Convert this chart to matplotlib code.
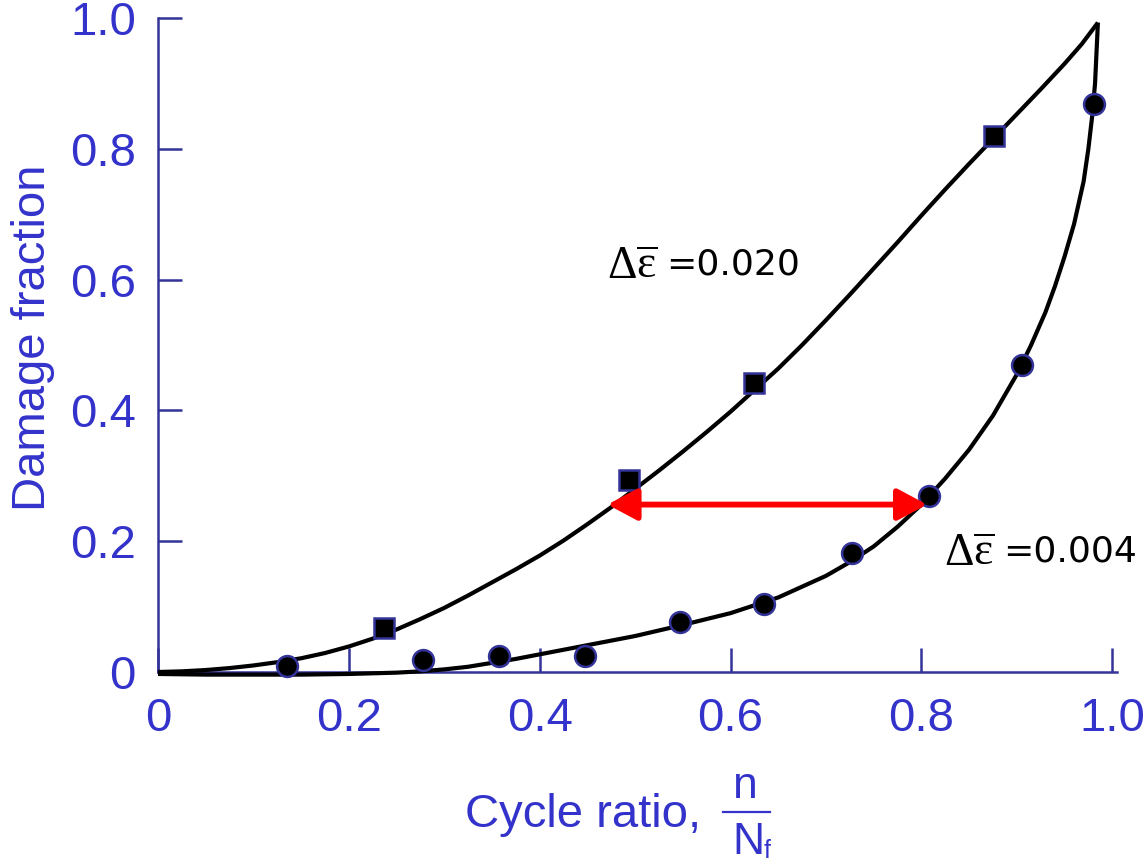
import matplotlib
matplotlib.use('Agg')
import matplotlib.pyplot as plt
from matplotlib.lines import Line2D

# ---------------- data ----------------
# measured points, strain range 0.020 (squares)
sq_x = [0.237, 0.494, 0.625, 0.876]
sq_y = [0.067, 0.294, 0.442, 0.819]
# measured points, strain range 0.004 (circles)
ci_x = [0.135, 0.278, 0.357, 0.448, 0.547, 0.635, 0.727, 0.808, 0.905, 0.981]
ci_y = [0.009, 0.018, 0.024, 0.024, 0.077, 0.104, 0.182, 0.269, 0.470, 0.868]
# fitted curve, 0.020
up_x = [0.000, 0.025, 0.050, 0.075, 0.100, 0.125, 0.150, 0.175, 0.200, 0.225,
        0.250, 0.275, 0.300, 0.325, 0.350, 0.375, 0.400, 0.425, 0.450, 0.475,
        0.500, 0.525, 0.550, 0.575, 0.600, 0.625, 0.650, 0.675, 0.700, 0.725,
        0.750, 0.775, 0.800, 0.825, 0.850, 0.875, 0.900, 0.925, 0.950, 0.968,
        0.985]
up_y = [0.000, 0.001, 0.003, 0.006, 0.010, 0.015, 0.021, 0.029, 0.039, 0.051,
        0.065, 0.081, 0.098, 0.117, 0.137, 0.157, 0.178, 0.201, 0.226, 0.252,
        0.280, 0.308, 0.337, 0.367, 0.398, 0.431, 0.464, 0.500, 0.538, 0.577,
        0.617, 0.657, 0.698, 0.738, 0.777, 0.815, 0.853, 0.891, 0.930, 0.960,
        0.993]
# fitted curve, 0.004
lo_x = [0.000, 0.050, 0.100, 0.150, 0.200, 0.250, 0.275, 0.300, 0.325, 0.350,
        0.375, 0.400, 0.450, 0.500, 0.550, 0.600, 0.650, 0.700, 0.725, 0.750,
        0.775, 0.800, 0.825, 0.850, 0.875, 0.900, 0.915, 0.930, 0.940, 0.950,
        0.960, 0.970, 0.975, 0.979, 0.982, 0.985]
lo_y = [-0.003, -0.004, -0.004, -0.004, -0.003, -0.001, 0.001, 0.004, 0.008, 0.014,
        0.020, 0.027, 0.041, 0.055, 0.072, 0.090, 0.114, 0.147, 0.168, 0.192,
        0.222, 0.256, 0.296, 0.340, 0.392, 0.455, 0.500, 0.550, 0.590, 0.635,
        0.685, 0.750, 0.800, 0.850, 0.900, 0.993]
# horizontal arrow between curves
arrow_x = [0.471, 0.806]
arrow_y = 0.256
# labels
curve_labels = ['0.020', '0.004']
label_pos = [(0.471, 0.601), (0.824, 0.162)]
ticks = [0, 0.2, 0.4, 0.6, 0.8, 1.0]
tick_labels = ['0', '0.2', '0.4', '0.6', '0.8', '1.0']

# ---------------- style ----------------
BLUE_TXT = '#3333CC'
BLUE_AX = '#333399'
W, H = 1146, 867
plt.rcParams['font.family'] = ['Liberation Sans', 'DejaVu Sans']
plt.rcParams['mathtext.fontset'] = 'custom'
plt.rcParams['mathtext.rm'] = 'Liberation Serif'
plt.rcParams['mathtext.it'] = 'Liberation Serif:italic'

fig = plt.figure(figsize=(W / 100, H / 100), dpi=100)
ax = fig.add_axes([158 / W, (H - 672) / H, 959 / W, 654 / H])
ax.set_xlim(0, 1.005)
ax.set_ylim(0, 1.0)

for s in ['top', 'right']:
    ax.spines[s].set_visible(False)
for s in ['left', 'bottom']:
    ax.spines[s].set_color(BLUE_AX)
    ax.spines[s].set_linewidth(1.8)

ax.set_xticks(ticks)
ax.set_xticklabels(tick_labels)
ax.set_yticks(ticks)
ax.set_yticklabels(tick_labels)
ax.tick_params(direction='in', length=17, width=1.8, color=BLUE_AX,
               labelcolor=BLUE_TXT, labelsize=34)
ax.tick_params(axis='x', pad=18)
ax.tick_params(axis='y', pad=16)

# curves
for cx, cy in [(up_x, up_y), (lo_x, lo_y)]:
    ax.plot(cx, cy, color='black', lw=3.0, clip_on=False, zorder=3,
            solid_joinstyle='round', solid_capstyle='butt')
# markers
ax.plot(sq_x, sq_y, ls='none', marker='s', ms=15, mfc='black', mec=BLUE_AX,
        mew=1.8, clip_on=False, zorder=4)
ax.plot(ci_x, ci_y, ls='none', marker='o', ms=15, mfc='black', mec=BLUE_AX,
        mew=1.8, clip_on=False, zorder=4)

# red double arrow
ax.annotate('', xy=(arrow_x[1], arrow_y), xytext=(arrow_x[0], arrow_y),
            arrowprops=dict(arrowstyle='<|-|>,head_length=0.6,head_width=0.32',
                            color='red', lw=4.2, mutation_scale=30,
                            shrinkA=0, shrinkB=0), zorder=5)

# curve labels
for lab, (lx, ly) in zip(curve_labels, label_pos):
    t1 = ax.text(lx, ly, r'$\Delta\overline{\mathrm{\varepsilon}}$',
                 fontsize=33, color='black', ha='left', va='baseline')
    ax.annotate('=' + lab, xy=(1, ly), xycoords=(t1, 'data'), xytext=(6, 3),
                textcoords='offset points', fontsize=26, family='DejaVu Sans',
                color='black', ha='left', va='baseline')

# axis labels
fig.text(33 / W, 1 - 338 / H, 'Damage fraction', rotation=90, ha='center',
         va='center', fontsize=34, color=BLUE_TXT)
fig.text(465 / W, 1 - 827 / H, 'Cycle ratio,', ha='left', va='baseline',
         fontsize=34, color=BLUE_TXT)
fig.text(745 / W, 1 - 798 / H, 'n', ha='center', va='baseline',
         fontsize=32, color=BLUE_TXT)
fig.add_artist(Line2D([723 / W, 770 / W], [1 - 812 / H, 1 - 812 / H],
                      color=BLUE_TXT, lw=1.6))
fig.text(748 / W, 1 - 854 / H, 'N', ha='center', va='baseline',
         fontsize=32, color=BLUE_TXT)
fig.text(764 / W, 1 - 858 / H, 'f', ha='left', va='baseline',
         fontsize=18, color=BLUE_TXT)

fig.savefig('out.png', dpi=100)
